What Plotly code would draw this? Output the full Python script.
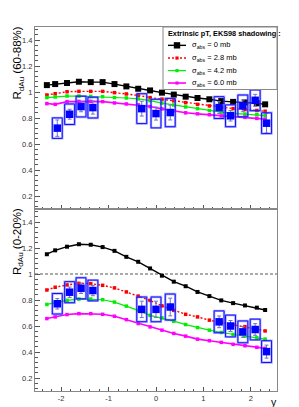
import plotly.graph_objects as go

# ---------------- data ----------------
X_MODEL = [-2.3, -2.125, -1.875, -1.625, -1.375, -1.125, -0.875, -0.625, -0.375, -0.125,
           0.125, 0.375, 0.625, 0.875, 1.125, 1.375, 1.625, 1.875, 2.125, 2.3]

SIGMA_LABELS = ["0", "2.8", "4.2", "6.0"]
MODEL_COLORS = ["#000000", "#ff0000", "#00ee00", "#ff00ff"]

# peripheral (60-88%) model curves
TOP_S0 = [1.053, 1.061, 1.069, 1.079, 1.076, 1.076, 1.061, 1.043, 1.025, 1.012,
          0.995, 0.980, 0.964, 0.954, 0.944, 0.930, 0.924, 0.920, 0.913, 0.905]
TOP_S28 = [0.977, 0.987, 1.002, 1.005, 1.005, 1.005, 0.995, 0.985, 0.974, 0.957,
           0.945, 0.932, 0.918, 0.905, 0.893, 0.882, 0.872, 0.865, 0.858, 0.852]
TOP_S42 = [0.957, 0.962, 0.969, 0.969, 0.966, 0.964, 0.957, 0.954, 0.947, 0.934,
           0.915, 0.900, 0.885, 0.872, 0.857, 0.845, 0.836, 0.830, 0.826, 0.818]
TOP_S60 = [0.911, 0.905, 0.926, 0.928, 0.928, 0.926, 0.916, 0.908, 0.901, 0.888,
           0.870, 0.855, 0.840, 0.832, 0.825, 0.816, 0.812, 0.805, 0.797, 0.791]

# central (0-20%) model curves
BOT_S0 = [1.152, 1.182, 1.210, 1.229, 1.225, 1.207, 1.178, 1.132, 1.094, 1.043,
          0.987, 0.941, 0.906, 0.862, 0.830, 0.797, 0.776, 0.758, 0.741, 0.723]
BOT_S28 = [0.877, 0.898, 0.916, 0.928, 0.926, 0.913, 0.893, 0.862, 0.830, 0.797,
           0.755, 0.720, 0.690, 0.670, 0.645, 0.627, 0.610, 0.595, 0.578, 0.562]
BOT_S42 = [0.766, 0.779, 0.797, 0.807, 0.807, 0.802, 0.784, 0.753, 0.720, 0.682,
           0.662, 0.637, 0.611, 0.588, 0.568, 0.550, 0.535, 0.522, 0.509, 0.499]
BOT_S60 = [0.657, 0.670, 0.688, 0.695, 0.695, 0.690, 0.675, 0.649, 0.619, 0.593,
           0.568, 0.543, 0.522, 0.499, 0.487, 0.474, 0.459, 0.448, 0.436, 0.428]

# PHENIX data
Y_DATA = [-2.08, -1.82, -1.58, -1.33, -0.30, 0.0, 0.30, 1.33, 1.57, 1.83, 2.09, 2.33]
TOP_R = [0.722, 0.829, 0.888, 0.880, 0.872, 0.834, 0.842, 0.880, 0.817, 0.893, 0.936, 0.760]
TOP_STAT = [0.063, 0.038, 0.040, 0.050, 0.057, 0.050, 0.057, 0.046, 0.040, 0.045, 0.046, 0.076]
TOP_SYS = [0.079, 0.079, 0.080, 0.080, 0.115, 0.110, 0.109, 0.084, 0.084, 0.084, 0.080, 0.080]
BOT_R = [0.771, 0.860, 0.890, 0.873, 0.728, 0.728, 0.746, 0.632, 0.600, 0.555, 0.573, 0.403]
BOT_STAT = [0.040, 0.040, 0.040, 0.040, 0.063, 0.063, 0.068, 0.045, 0.042, 0.042, 0.045, 0.050]
BOT_SYS = [0.079, 0.081, 0.081, 0.080, 0.095, 0.095, 0.100, 0.084, 0.084, 0.084, 0.080, 0.084]
BOX_HALF_WIDTH = 0.105

X_TICKS = [-2, -1, 0, 1, 2]
X_TICK_TEXT = ["-2", "-1", "0", "1", "2"]
Y_TICKS = [0.2, 0.4, 0.6, 0.8, 1.0, 1.2, 1.4]
Y_TICK_TEXT = ["0.2", "0.4", "0.6", "0.8", "1", "1.2", "1.4"]

# ---------------- figure ----------------
FONT = "Liberation Sans, Arial, sans-serif"
W, H = 299, 407
L, R, T, B = 27, 30, 19, 21
PW, PH = W - L - R, H - T - B


def px2x(px):
    return (px - L) / PW


def px2y(py):
    return (H - B - py) / PH


fig = go.Figure()

panels = [
    ("x", "y", [TOP_S0, TOP_S28, TOP_S42, TOP_S60], TOP_R, TOP_STAT, TOP_SYS, True),
    ("x2", "y2", [BOT_S0, BOT_S28, BOT_S42, BOT_S60], BOT_R, BOT_STAT, BOT_SYS, False),
]

dashes = ["solid", "2px,2px", "solid", "solid"]
widths = [1.4, 1.4, 1.2, 1.6]

shapes = []
for xa, ya, curves, rvals, stat, sys, is_top in panels:
    # systematic boxes
    for xv, rv, sv in zip(Y_DATA, rvals, sys):
        shapes.append(dict(type="rect", xref=xa, yref=ya, x0=xv - BOX_HALF_WIDTH, x1=xv + BOX_HALF_WIDTH,
                           y0=rv - sv, y1=rv + sv, line=dict(color="rgba(90,90,255,0.5)", width=2.4),
                           fillcolor="rgba(0,0,0,0)", layer="above"))
        shapes.append(dict(type="rect", xref=xa, yref=ya, x0=xv - BOX_HALF_WIDTH, x1=xv + BOX_HALF_WIDTH,
                           y0=rv - sv, y1=rv + sv, line=dict(color="#1010ff", width=1),
                           fillcolor="rgba(0,0,0,0)", layer="above"))
    for i, cv in enumerate(curves):
        msize = (6 if is_top else 4) if i == 0 else 3.5
        fig.add_trace(go.Scatter(x=X_MODEL, y=cv, xaxis=xa, yaxis=ya, mode="lines+markers",
                                 line=dict(color=MODEL_COLORS[i], width=widths[i], dash=dashes[i]),
                                 marker=dict(symbol="square", size=msize, color=MODEL_COLORS[i]),
                                 showlegend=False, hoverinfo="skip"))
    fig.add_trace(go.Scatter(x=Y_DATA, y=rvals, xaxis=xa, yaxis=ya, mode="markers",
                             marker=dict(symbol="square", size=7.5, color="#0000ff"),
                             error_y=dict(type="data", array=stat, color="#7070d0", thickness=1, width=2),
                             showlegend=False, hoverinfo="skip"))

# dashed unity line in the bottom panel
shapes.append(dict(type="line", xref="x2 domain", yref="y2", x0=0, x1=1, y0=1, y1=1,
                   line=dict(color="#555555", width=1, dash="3px,2px"), layer="below"))

# ---------------- legend (drawn by hand) ----------------
shapes.append(dict(type="rect", xref="paper", yref="paper", x0=px2x(155), x1=1.0,
                   y0=px2y(82), y1=1.0, line=dict(color="#888888", width=1),
                   fillcolor="white", layer="above"))
annotations = [dict(x=px2x(158), y=px2y(25.5), xref="paper", yref="paper", xanchor="left",
                    yanchor="middle", showarrow=False,
                    text="<b>Extrinsic pT, EKS98 shadowing :</b>",
                    font=dict(family=FONT, size=7.3, color="#000"))]
leg_y = [37.5, 50.3, 63, 75.5]
for i, lab in enumerate(SIGMA_LABELS):
    yy = px2y(leg_y[i])
    shapes.append(dict(type="line", xref="paper", yref="paper", x0=px2x(160), x1=px2x(178),
                       y0=yy, y1=yy, layer="above",
                       line=dict(color=MODEL_COLORS[i], width=widths[i], dash=dashes[i])))
    ms = 3.2 if i == 0 else 1.6
    shapes.append(dict(type="rect", xref="paper", yref="paper", x0=px2x(169 - ms), x1=px2x(169 + ms),
                       y0=yy - ms / PH, y1=yy + ms / PH, layer="above",
                       line=dict(width=0), fillcolor=MODEL_COLORS[i]))
    annotations.append(dict(x=px2x(182), y=yy, xref="paper", yref="paper", xanchor="left",
                            yanchor="middle", showarrow=False,
                            text="σ<sub>abs</sub> = " + lab + " mb",
                            font=dict(family=FONT, size=7.5, color="#000")))

# axis titles
annotations.append(dict(x=px2x(10), y=px2y(17), xref="paper", yref="paper", xanchor="center",
                        yanchor="top", showarrow=False, textangle=-90,
                        text="R<sub>dAu</sub> (60-88%)", font=dict(family=FONT, size=11.5, color="#000")))
annotations.append(dict(x=px2x(10), y=px2y(200), xref="paper", yref="paper", xanchor="center",
                        yanchor="top", showarrow=False, textangle=-90,
                        text="R<sub>dAu</sub> (0-20%)", font=dict(family=FONT, size=11.5, color="#000")))
annotations.append(dict(x=px2x(266), y=px2y(397.5), xref="paper", yref="paper", xanchor="center",
                        yanchor="middle", showarrow=False, text="y",
                        font=dict(family=FONT, size=10.5, color="#000")))

axis_common = dict(showgrid=False, zeroline=False, showline=True, linecolor="#888888", linewidth=1,
                   mirror=True, ticks="inside", tickcolor="#555555",
                   tickfont=dict(family=FONT, size=7.5, color="#333333"))
xcommon = dict(axis_common, range=[-2.55, 2.55], tickvals=X_TICKS, ticktext=X_TICK_TEXT, ticklen=4,
               minor=dict(ticks="inside", dtick=0.2, tick0=0, ticklen=2, tickcolor="#555555"))
ycommon = dict(axis_common, range=[0.1, 1.5], tickvals=Y_TICKS, ticktext=Y_TICK_TEXT, ticklen=5,
               minor=dict(ticks="inside", dtick=0.04, tick0=0, ticklen=2.5, tickcolor="#555555"))

fig.update_layout(
    width=W, height=H, margin=dict(l=L, r=R, t=T, b=B),
    paper_bgcolor="white", plot_bgcolor="white",
    xaxis=dict(xcommon, anchor="y", showticklabels=False),
    yaxis=dict(ycommon, domain=[0.5, 1.0], anchor="x"),
    xaxis2=dict(xcommon, anchor="y2"),
    yaxis2=dict(ycommon, domain=[0.0, 0.5], anchor="x2"),
    shapes=shapes, annotations=annotations, showlegend=False,
)

fig.write_html("out.html")
